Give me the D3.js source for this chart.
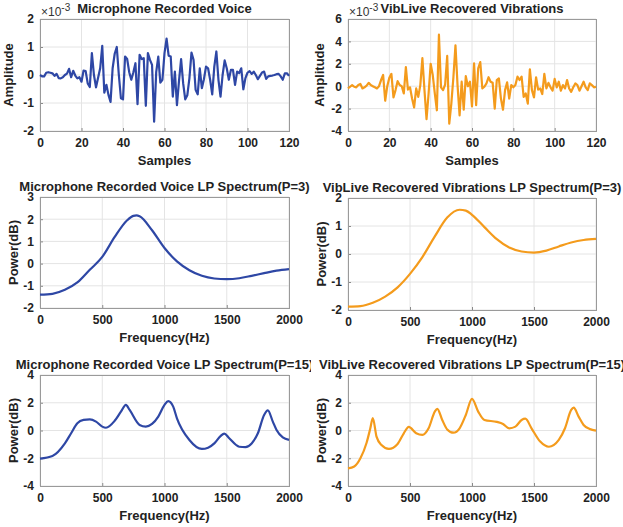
<!DOCTYPE html>
<html>
<head>
<meta charset="utf-8">
<script src="https://cdn.jsdelivr.net/npm/d3@7"></script>
<style>
  body { margin: 0; background: #fff; }
  text { font-family: "Liberation Sans", Arial, sans-serif; fill: #222; }
</style>
</head>
<body>
<svg id="fig" width="623" height="527"></svg>
<script>
// waveform samples (x 1e-3)
var sampleIdx = d3.range(0, 121);
var micVoice = [
  0, -0.05, -0.05, 0.08, 0.1, 0.08, 0.06, -0.03, 0.04, -0.11,
  -0.12, -0.08, 0.0, 0.05, 0.22, -0.08, 0.15, -0.02, -0.12, -0.08,
  -0.24, 0.16, 0.14, -0.3, -0.43, 0.78, 0.0, -0.44, -0.1, 0.24,
  1.04, -0.63, -0.35, -0.71, -0.96, 0.24, 0.76, 1.0, 0.0, -0.83,
  -0.87, 0.66, 0.57, 0.1, -0.17, 0.1, 0.42, -1.04, 0.72, 0.57,
  0.6, -1.1, 0.78, 0.54, 0.36, -1.67, 0.1, 0.66, -0.27, -0.17,
  0.78, 1.3, 0.69, 0.66, -0.77, 0.12, -1.08, -0.2, 0.57, -0.3,
  -0.87, -0.72, -0.12, 0.8, 0.54, -0.53, -0.69, 0.24, -0.47, -0.15,
  0.3, 0.24, -0.17, -0.69, 0.3, 0.84, -0.17, -0.77, 0.0, 0.52,
  0.24, -0.17, 0.18, 0.18, -0.35, 0.12, 0.07, 0.24, -0.51, -0.11,
  0.08, 0.14, 0.04, 0.12, 0.0, -0.15, -0.03, 0.09, 0.12, -0.14,
  -0.05, -0.03, -0.02, 0.0, 0.03, 0.04, -0.05, -0.17, 0.06, 0.06,
  -0.03
];
var vibLive = [
  -0.2, -0.05, 0.1, -0.05, -0.1, 0.1, 0.2, -0.2, -0.1, 0.05,
  0.3, 0.1, 0.0, -0.1, -0.2, 0.0, 0.55, 1.0, -1.3, 0.0,
  0.75, 1.1, -1.0, -0.35, 0.45, 0.1, 0.0, -0.65, 1.7, -0.3,
  -0.1, -1.1, -1.9, -0.2, -0.95, 0.1, 2.5, -0.35, -2.95, -0.65,
  2.0, 1.0, -0.65, -2.15, 4.6, -0.1, -0.35, 0.15, 2.7, -3.35,
  -1.55, 0.8, 3.65, 0.1, -2.6, 0.4, -2.1, 0.9, 0.0, 0.4,
  -1.8, 2.05, -1.7, 1.6, 2.15, -0.2, -0.05, 0.25, 0.8, 0.4,
  0.3, -2.0, 0.55, 0.7, -1.1, -2.1, -0.35, 0.35, -1.1, 0.1,
  -0.1, 0.1, 0.85, 0.55, 0.85, -0.95, -0.65, -1.55, 1.5, -0.35,
  -1.0, 0.8, -0.3, -0.2, -0.7, 1.1, -0.2, 0.3, -0.1, -0.4,
  0.65, -0.1, 0.4, -0.4, 0.1, -0.2, 0.55, -0.2, -0.5, -0.1,
  0.25, 0.1, -0.4, 0.0, 0.4, -0.1, -0.35, 0.25, 0.1, -0.1,
  -0.05
];

// LP spectra, P=3
var micP3Freq  = [0, 100, 200, 300, 400, 500, 600, 700, 750, 775, 800, 900, 1000, 1100, 1200, 1300, 1400, 1500, 1600, 1700, 1800, 1900, 2000];
var micP3Power = [-1.4, -1.36, -1.18, -0.85, -0.28, 0.3, 1.2, 1.95, 2.15, 2.17, 2.13, 1.5, 0.7, 0.1, -0.3, -0.55, -0.67, -0.7, -0.66, -0.55, -0.43, -0.32, -0.25];
var vibP3Freq  = [0, 100, 200, 300, 400, 500, 600, 700, 800, 900, 950, 1000, 1100, 1200, 1300, 1400, 1500, 1600, 1700, 1800, 1900, 2000];
var vibP3Power = [-1.88, -1.86, -1.74, -1.52, -1.19, -0.71, -0.11, 0.63, 1.3, 1.58, 1.55, 1.4, 0.96, 0.53, 0.23, 0.09, 0.05, 0.12, 0.27, 0.41, 0.5, 0.54];

// LP spectra, P=15
var micP15Freq  = [0, 100, 200, 250, 300, 350, 400, 450, 500, 530, 600, 650, 690, 720, 800, 850, 900, 950, 1000, 1030, 1070, 1100, 1200, 1300, 1350, 1400, 1450, 1480, 1520, 1600, 1650, 1700, 1750, 1800, 1830, 1870, 1900, 1950, 2000];
var micP15Power = [-2.03, -1.84, -0.93, -0.2, 0.52, 0.76, 0.8, 0.64, 0.28, 0.2, 0.7, 1.36, 1.85, 1.48, 0.4, 0.28, 0.47, 1.0, 1.84, 2.12, 1.72, 0.88, -0.68, -1.33, -1.24, -0.93, -0.4, -0.22, -0.56, -1.17, -1.2, -0.93, -0.2, 1.12, 1.45, 0.64, 0.04, -0.5, -0.68];
var vibP15Freq  = [0, 50, 100, 150, 180, 200, 230, 270, 330, 400, 450, 490, 550, 600, 650, 700, 720, 760, 800, 850, 900, 950, 1000, 1050, 1100, 1200, 1250, 1300, 1350, 1400, 1430, 1480, 1550, 1620, 1700, 1750, 1800, 1820, 1860, 1900, 1950, 2000];
var vibP15Power = [-2.73, -2.6, -2.0, -0.88, 0.16, 0.9, -0.44, -1.05, -1.33, -0.97, -0.2, 0.26, -0.2, -0.32, 0.16, 1.36, 1.56, 0.76, 0.08, -0.16, 0.16, 1.12, 2.28, 1.36, 0.76, 0.62, 0.47, 0.16, 0.28, 0.76, 0.85, 0.16, -0.8, -1.17, -0.68, 0.16, 1.48, 1.65, 1.0, 0.4, 0.11, -0.01];

var blue = "#2e47a5";
var orange = "#f49b1c";

var svg = d3.select("#fig");

// left column gets clipped at the panel border
svg.append("defs").append("clipPath").attr("id", "leftCol")
  .append("rect").attr("x", 0).attr("y", 0).attr("width", 311).attr("height", 527);

function drawPanel(cfg) {
  var clip = cfg.left < 311 ? "url(#leftCol)" : null;
  var g = svg.append("g").attr("clip-path", clip);
  var w = cfg.right - cfg.left, h = cfg.bottom - cfg.top;

  var x = d3.scaleLinear().domain(cfg.xDomain).range([cfg.left, cfg.right]);
  var y = d3.scaleLinear().domain(cfg.yDomain).range([cfg.bottom, cfg.top]);

  // grid
  g.append("g").selectAll("line").data(cfg.xTicks).enter().append("line")
    .attr("x1", function(d) { return x(d); }).attr("x2", function(d) { return x(d); })
    .attr("y1", cfg.top).attr("y2", cfg.bottom)
    .style("stroke", "#e4e4e4").style("stroke-width", 1);
  g.append("g").selectAll("line").data(cfg.yTicks).enter().append("line")
    .attr("x1", cfg.left).attr("x2", cfg.right)
    .attr("y1", function(d) { return y(d); }).attr("y2", function(d) { return y(d); })
    .style("stroke", "#e4e4e4").style("stroke-width", 1);

  // axes
  var fmt = function(d) { return String(d); };
  var xAxis = d3.axisBottom(x).tickValues(cfg.xTicks).tickFormat(fmt).tickSize(-3).tickPadding(7);
  var yAxis = d3.axisLeft(y).tickValues(cfg.yTicks).tickFormat(fmt).tickSize(-3).tickPadding(6);
  var gx = g.append("g").attr("transform", "translate(0," + cfg.bottom + ")").call(xAxis);
  var gy = g.append("g").attr("transform", "translate(" + cfg.left + ",0)").call(yAxis);
  [gx, gy].forEach(function(a) {
    a.select(".domain").remove();
    a.selectAll(".tick line").style("stroke", "#8a8a8a");
    a.selectAll(".tick text")
      .style("font-family", '"Liberation Sans", Arial, sans-serif')
      .style("font-size", "12px").style("font-weight", "bold").style("fill", "#222");
  });

  // box
  g.append("rect").attr("x", cfg.left + 0.5).attr("y", cfg.top + 0.5)
    .attr("width", w).attr("height", h)
    .style("fill", "none").style("stroke", "#9a9a9a").style("stroke-width", 1);

  // data line
  var line = d3.line()
    .x(function(d) { return x(d[0]); })
    .y(function(d) { return y(d[1]); })
    .curve(cfg.smooth ? d3.curveMonotoneX : d3.curveLinear);
  var pts = cfg.xs.map(function(v, i) { return [v, cfg.ys[i]]; });
  g.append("path").datum(pts).attr("d", line)
    .style("fill", "none").style("stroke", cfg.color)
    .style("stroke-width", 2.2).style("stroke-linejoin", "round");

  // title
  g.append("text").attr("x", (cfg.left + cfg.right) / 2).attr("y", cfg.top - 6)
    .attr("text-anchor", "middle")
    .style("font-size", "13px").style("font-weight", "bold")
    .text(cfg.title);

  // axis labels
  g.append("text").attr("x", (cfg.left + cfg.right) / 2).attr("y", cfg.bottom + 34)
    .attr("text-anchor", "middle")
    .style("font-size", "13px").style("font-weight", "bold")
    .text(cfg.xLabel);
  g.append("text")
    .attr("transform", "translate(" + (cfg.left - cfg.yLabelOff) + "," + (cfg.top + h / 2) + ") rotate(-90)")
    .attr("text-anchor", "middle")
    .style("font-size", "13px").style("font-weight", "bold")
    .text(cfg.yLabel);

  // exponent marker
  if (cfg.exponent) {
    var ex = g.append("text").attr("x", cfg.left + 1).attr("y", cfg.top - 3)
      .style("font-size", "12px").style("fill", "#333");
    ex.append("tspan").text("\u00d710");
    ex.append("tspan").attr("dy", -5).style("font-size", "10px").text(cfg.exponent);
  }
}

drawPanel({
  left: 40, right: 289, top: 19, bottom: 131,
  xDomain: [0, 120], yDomain: [-2, 2],
  xTicks: [0, 20, 40, 60, 80, 100, 120], yTicks: [-2, -1, 0, 1, 2],
  xs: sampleIdx, ys: micVoice, color: blue, smooth: false,
  title: "Microphone Recorded Voice", xLabel: "Samples", yLabel: "Amplitude",
  yLabelOff: 27, exponent: "-3"
});
drawPanel({
  left: 348, right: 596, top: 19, bottom: 131,
  xDomain: [0, 120], yDomain: [-4, 6],
  xTicks: [0, 20, 40, 60, 80, 100, 120], yTicks: [-4, -2, 0, 2, 4, 6],
  xs: sampleIdx, ys: vibLive, color: orange, smooth: false,
  title: "VibLive Recovered Vibrations", xLabel: "Samples", yLabel: "Amplitude",
  yLabelOff: 24, exponent: "-3"
});
drawPanel({
  left: 40, right: 289, top: 197, bottom: 308,
  xDomain: [0, 2000], yDomain: [-2, 3],
  xTicks: [0, 500, 1000, 1500, 2000], yTicks: [-2, -1, 0, 1, 2, 3],
  xs: micP3Freq, ys: micP3Power, color: blue, smooth: true,
  title: "Microphone Recorded Voice LP Spectrum(P=3)", xLabel: "Frequency(Hz)", yLabel: "Power(dB)",
  yLabelOff: 22
});
drawPanel({
  left: 348, right: 596, top: 198, bottom: 310,
  xDomain: [0, 2000], yDomain: [-2, 2],
  xTicks: [0, 500, 1000, 1500, 2000], yTicks: [-2, -1, 0, 1, 2],
  xs: vibP3Freq, ys: vibP3Power, color: orange, smooth: true,
  title: "VibLive Recovered Vibrations LP Spectrum(P=3)", xLabel: "Frequency(Hz)", yLabel: "Power(dB)",
  yLabelOff: 22
});
drawPanel({
  left: 40, right: 289, top: 375, bottom: 486,
  xDomain: [0, 2000], yDomain: [-4, 4],
  xTicks: [0, 500, 1000, 1500, 2000], yTicks: [-4, -2, 0, 2, 4],
  xs: micP15Freq, ys: micP15Power, color: blue, smooth: true,
  title: "Microphone Recorded Voice LP Spectrum(P=15)", xLabel: "Frequency(Hz)", yLabel: "Power(dB)",
  yLabelOff: 22
});
drawPanel({
  left: 348, right: 596, top: 375, bottom: 486,
  xDomain: [0, 2000], yDomain: [-4, 4],
  xTicks: [0, 500, 1000, 1500, 2000], yTicks: [-4, -2, 0, 2, 4],
  xs: vibP15Freq, ys: vibP15Power, color: orange, smooth: true,
  title: "VibLive Recovered Vibrations LP Spectrum(P=15)", xLabel: "Frequency(Hz)", yLabel: "Power(dB)",
  yLabelOff: 22
});
</script>
</body>
</html>
